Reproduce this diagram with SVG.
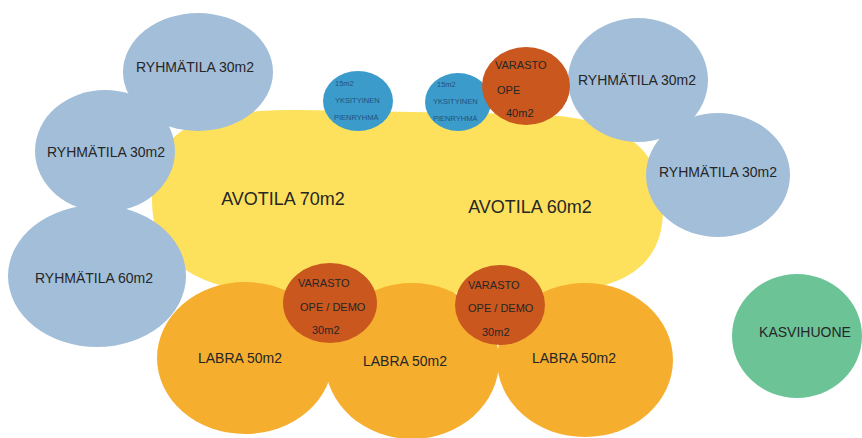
<svg xmlns="http://www.w3.org/2000/svg" width="862" height="438" viewBox="0 0 862 438">
<style>
text{font-family:"Liberation Sans",Arial,sans-serif;fill:#262626;text-anchor:middle}
.ry{fill:#a3bed9}
.big{font-size:18px}
.md{font-size:14px}
.sm{font-size:11px;text-anchor:start}
.xs{font-size:7.5px;text-anchor:start;fill:#24507a}
.lab{fill:#f5ae2e}
.var{fill:#c9571e}
.pr{fill:#3b9ccc}
</style>
<rect width="862" height="438" fill="#ffffff"/>
<g id="avotila">
<path d="M152,200 C152,128 195,110 300,110 L520,114 C625,114 663,150 663,210 C663,268 620,293 540,293 L290,293 C200,293 152,265 152,200 Z" fill="#fde15c"/>
<text class="big" x="283" y="205">AVOTILA 70m2</text>
<text class="big" x="530" y="213">AVOTILA 60m2</text>
</g>
<g id="ryhmatila1"><ellipse class="ry" cx="198" cy="72" rx="75" ry="59"/><text class="md" x="195" y="72">RYHMÄTILA 30m2</text></g>
<g id="ryhmatila2"><ellipse class="ry" cx="105" cy="151" rx="70" ry="61"/><text class="md" x="106" y="157">RYHMÄTILA 30m2</text></g>
<g id="ryhmatila3"><ellipse class="ry" cx="97" cy="276" rx="89" ry="71"/><text class="md" x="94" y="283">RYHMÄTILA 60m2</text></g>
<g id="ryhmatila4"><ellipse class="ry" cx="638" cy="80" rx="70" ry="62"/><text class="md" x="637" y="85">RYHMÄTILA 30m2</text></g>
<g id="ryhmatila5"><ellipse class="ry" cx="718" cy="175" rx="72" ry="62"/><text class="md" x="718" y="177">RYHMÄTILA 30m2</text></g>
<g id="labra1"><ellipse class="lab" cx="245" cy="358" rx="88" ry="76"/></g>
<g id="labra2"><ellipse class="lab" cx="412" cy="361" rx="87" ry="78"/></g>
<g id="labra3"><ellipse class="lab" cx="585" cy="360" rx="88" ry="77"/></g>
<g id="labra-labels">
<text class="md" x="240" y="363">LABRA 50m2</text>
<text class="md" x="405" y="366">LABRA 50m2</text>
<text class="md" x="574" y="363">LABRA 50m2</text>
</g>
<g id="varasto1"><ellipse class="var" cx="330" cy="303" rx="47" ry="40"/>
<text class="sm" x="298" y="287">VARASTO</text><text class="sm" x="300" y="311">OPE / DEMO</text><text class="sm" x="312" y="334">30m2</text></g>
<g id="varasto2"><ellipse class="var" cx="500" cy="305" rx="45" ry="40"/>
<text class="sm" x="468" y="289">VARASTO</text><text class="sm" x="468" y="312">OPE / DEMO</text><text class="sm" x="482" y="336">30m2</text></g>
<g id="pienryhma1"><ellipse class="pr" cx="358" cy="101" rx="35" ry="30"/>
<text class="xs" x="335" y="86">15m2</text><text class="xs" x="335" y="103">YKSITYINEN</text><text class="xs" x="334" y="120">PIENRYHMÄ</text></g>
<g id="pienryhma2"><ellipse class="pr" cx="458" cy="102" rx="33" ry="29"/>
<text class="xs" x="437" y="87">15m2</text><text class="xs" x="433" y="104">YKSITYINEN</text><text class="xs" x="433" y="121">PIENRYHMÄ</text></g>
<g id="varasto-ope"><ellipse class="var" cx="526" cy="86" rx="44" ry="39" fill="#d05b1c"/>
<text class="sm" x="495" y="69">VARASTO</text><text class="sm" x="497" y="94">OPE</text><text class="sm" x="506" y="117">40m2</text></g>
<g id="kasvihuone"><ellipse cx="797" cy="336" rx="65" ry="62" fill="#6cc496"/><text class="md" x="805" y="337">KASVIHUONE</text></g>
<g id="connectors"/>
</svg>
